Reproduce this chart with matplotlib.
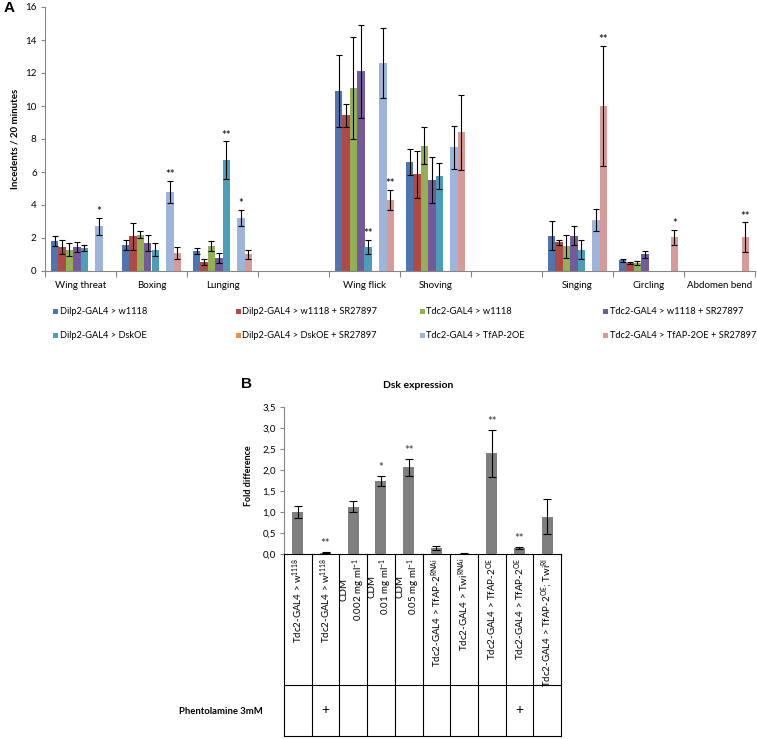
import numpy as np
import matplotlib
matplotlib.use("Agg")
import matplotlib.pyplot as plt
from matplotlib.patches import Rectangle

plt.rcParams['font.family'] = ['Lato', 'DejaVu Sans']
plt.rcParams['mathtext.fontset'] = 'custom'
plt.rcParams['mathtext.rm'] = 'Lato'
plt.rcParams['mathtext.it'] = 'Lato:italic'
plt.rcParams['mathtext.bf'] = 'Lato:bold'

nan = np.nan
# ---------------- Panel A data ----------------
categories_A = ["Wing threat", "Boxing", "Lunging", "", "Wing flick", "Shoving", "",
                "Singing", "Circling", "Abdomen bend"]
series_A = ["Dilp2-GAL4 > w1118", "Dilp2-GAL4 > w1118 + SR27897", "Tdc2-GAL4 > w1118",
            "Tdc2-GAL4 > w1118 + SR27897", "Dilp2-GAL4 > DskOE", "Dilp2-GAL4 > DskOE + SR27897",
            "Tdc2-GAL4 > TfAP-2OE", "Tdc2-GAL4 > TfAP-2OE + SR27897"]
colors_A = ['#4F75B0', '#B04A47', '#94B055', '#735A9A', '#4B9EBA', '#E8924A', '#9DB4DB', '#D69A98']

dilp_w = [1.8, 1.6, 1.2, nan, 10.9, 6.6, nan, 2.15, 0.65, nan]
dilp_w_err = [0.3, 0.3, 0.2, nan, 2.2, 0.8, nan, 0.85, 0.1, nan]
dilp_w_sr = [1.45, 2.1, 0.55, nan, 9.45, 5.85, nan, 1.75, 0.5, nan]
dilp_w_sr_err = [0.45, 0.8, 0.2, nan, 0.7, 1.45, nan, 0.15, 0.05, nan]
tdc_w = [1.3, 2.2, 1.5, nan, 11.1, 7.6, nan, 1.5, 0.5, nan]
tdc_w_err = [0.4, 0.2, 0.3, nan, 3.1, 1.1, nan, 0.7, 0.12, nan]
tdc_w_sr = [1.45, 1.7, 0.8, nan, 12.1, 5.5, nan, 2.15, 1.0, nan]
tdc_w_sr_err = [0.3, 0.5, 0.3, nan, 2.8, 1.4, nan, 0.6, 0.2, nan]
dilp_dsk = [1.4, 1.3, 6.7, nan, 1.45, 5.75, nan, 1.3, nan, nan]
dilp_dsk_err = [0.2, 0.4, 1.15, nan, 0.45, 0.8, nan, 0.6, nan, nan]
dilp_dsk_sr = [nan] * 10
dilp_dsk_sr_err = [nan] * 10
tdc_tfap = [2.7, 4.8, 3.2, nan, 12.6, 7.5, nan, 3.1, nan, nan]
tdc_tfap_err = [0.5, 0.65, 0.5, nan, 2.1, 1.3, nan, 0.68, nan, nan]
tdc_tfap_sr = [nan, 1.1, 1.0, nan, 4.3, 8.4, nan, 10.0, 2.05, 2.05]
tdc_tfap_sr_err = [nan, 0.35, 0.25, nan, 0.6, 2.25, nan, 3.65, 0.45, 0.9]

values_A = [dilp_w, dilp_w_sr, tdc_w, tdc_w_sr, dilp_dsk, dilp_dsk_sr, tdc_tfap, tdc_tfap_sr]
errors_A = [dilp_w_err, dilp_w_sr_err, tdc_w_err, tdc_w_sr_err, dilp_dsk_err, dilp_dsk_sr_err,
            tdc_tfap_err, tdc_tfap_sr_err]
# (category index, series index, marker)
signif_A = [(0, 6, '*'), (1, 6, '**'), (2, 4, '**'), (2, 6, '*'), (4, 4, '**'), (4, 7, '**'),
            (7, 7, '**'), (8, 7, '*'), (9, 7, '**')]

# ---------------- Panel B data ----------------
labels_B = ["Tdc2-GAL4 > w$^{1118}$", "Tdc2-GAL4 > w$^{1118}$",
            "CDM\n0.002 mg ml$^{-1}$", "CDM\n0.01 mg ml$^{-1}$", "CDM\n0.05 mg ml$^{-1}$",
            "Tdc2-GAL4 > TfAP-2$^{\\mathrm{RNAi}}$", "Tdc2-GAL4 > Twi$^{\\mathrm{RNAi}}$",
            "Tdc2-GAL4 > TfAP-2$^{\\mathrm{OE}}$", "Tdc2-GAL4 > TfAP-2$^{\\mathrm{OE}}$",
            "Tdc2-GAL4 > TfAP-2$^{\\mathrm{OE}}$; Twi$^{\\mathrm{RI}}$"]
values_B = [1.0, 0.03, 1.13, 1.74, 2.06, 0.14, 0.01, 2.4, 0.14, 0.89]
errors_B = [0.15, 0.01, 0.13, 0.12, 0.21, 0.04, 0.005, 0.56, 0.02, 0.41]
signif_B = ['', '**', '', '*', '**', '', '', '**', '**', '']
phentolamine = ['', '+', '', '', '', '', '', '', '+', '']
yticks_B = [0.0, 0.5, 1.0, 1.5, 2.0, 2.5, 3.0, 3.5]

W, H = 757, 739
fig = plt.figure(figsize=(W / 100, H / 100), dpi=100)

def fx(px):
    return px / W

def fy(py):
    return 1 - py / H

GRAY = '#868686'
FS = 7

# ---------------- Panel A ----------------
axA = fig.add_axes([fx(45), fy(271), fx(710), 264 / H])
ncat = len(categories_A)
x = np.arange(ncat)
bw = 0.104
for j, (vals, errs, col) in enumerate(zip(values_A, errors_A, colors_A)):
    xs = x + (j - 3.5) * bw
    axA.bar(xs, vals, width=bw, color=col, edgecolor='none')
    axA.errorbar(xs, vals, yerr=errs, fmt='none', ecolor='black', elinewidth=0.8,
                 capsize=2.3, capthick=0.8)
for ci, si, mark in signif_A:
    xs = ci + (si - 3.5) * bw
    top = values_A[si][ci] + errors_A[si][ci]
    axA.annotate(mark, xy=(xs, top), xytext=(0, 2), textcoords='offset points',
                 ha='center', va='baseline', fontsize=8, color='black')
axA.set_xlim(-0.5, ncat - 0.5)
axA.set_ylim(0, 16)
axA.set_yticks(range(0, 17, 2))
axA.set_xticks(x)
axA.set_xticklabels(categories_A, fontsize=FS)
axA.set_xticks(np.arange(-0.5, ncat, 1.0), minor=True)
axA.tick_params(axis='x', which='major', length=0, pad=7)
axA.tick_params(axis='x', which='minor', length=4, color=GRAY, width=0.8)
axA.tick_params(axis='y', length=3, color=GRAY, width=0.8, labelsize=FS, pad=3)
for s in ['top', 'right']:
    axA.spines[s].set_visible(False)
for s in ['left', 'bottom']:
    axA.spines[s].set_color(GRAY)
    axA.spines[s].set_linewidth(0.8)
fig.text(fx(15), fy(139), "Incedents / 20 minutes", rotation=90, ha='center', va='center',
         fontsize=FS, fontweight='bold')
fig.text(fx(4), fy(8), "A", fontsize=11, fontweight='bold', family='Liberation Sans',
         ha='left', va='center')

# Legend
leg_x = [53, 236, 420, 603]
leg_y = [311, 335]
for k, (name, col) in enumerate(zip(series_A, colors_A)):
    r, c = divmod(k, 4)
    px, py = leg_x[c], leg_y[r]
    fig.patches.append(Rectangle((fx(px), fy(py + 2.5)), 5 / W, 5 / H, transform=fig.transFigure,
                                 facecolor=col, edgecolor='none'))
    fig.text(fx(px + 6.5), fy(py), name, fontsize=6.7, ha='left', va='center')

# ---------------- Panel B ----------------
axB = fig.add_axes([fx(284), fy(554), fx(277), 147 / H])
nb = len(values_B)
xb = np.arange(nb)
axB.bar(xb, values_B, width=0.4, color='#7F7F7F', edgecolor='none')
axB.errorbar(xb, values_B, yerr=errors_B, fmt='none', ecolor='black', elinewidth=0.8,
             capsize=2.8, capthick=0.8)
for i, mark in enumerate(signif_B):
    if mark:
        axB.annotate(mark, xy=(i, values_B[i] + errors_B[i]), xytext=(0, 3.5),
                     textcoords='offset points', ha='center', va='baseline',
                     fontsize=8, color='#333333')
axB.set_xlim(-0.5, nb - 0.5)
axB.set_ylim(0, 3.5)
axB.set_yticks(yticks_B)
axB.set_yticklabels([f"{v:.1f}".replace('.', ',') for v in yticks_B])
axB.set_xticks([])
axB.tick_params(axis='y', length=3, color=GRAY, width=0.8, labelsize=FS, pad=3)
for s in ['top', 'right']:
    axB.spines[s].set_visible(False)
axB.spines['left'].set_color(GRAY)
axB.spines['left'].set_linewidth(0.8)
axB.spines['bottom'].set_color('black')
axB.spines['bottom'].set_linewidth(0.8)
fig.text(fx(418), fy(385), "Dsk expression", fontsize=7.5, fontweight='bold', ha='center', va='center')
fig.text(fx(248), fy(476), "Fold difference", rotation=90, fontsize=6.5, fontweight='bold',
         ha='center', va='center')
fig.text(fx(247), fy(384), "B", fontsize=11, fontweight='bold', family='Liberation Sans',
         ha='center', va='center')

# Table under panel B
axT = fig.add_axes([fx(284), fy(737), fx(277), 183 / H])
axT.set_xlim(-0.5, nb - 0.5)
axT.set_ylim(737, 554)
axT.axis('off')
for b in np.arange(-0.5, nb, 1.0):
    axT.plot([b, b], [554, 736], color='black', lw=0.8, clip_on=False)
for yy in [685, 736]:
    axT.plot([-0.5, nb - 0.5], [yy, yy], color='black', lw=0.8, clip_on=False)
for i, lab in enumerate(labels_B):
    axT.text(i, 558, lab, rotation=90, ha='center', va='top', fontsize=7,
             multialignment='center', linespacing=1.1)
    if phentolamine[i]:
        axT.text(i, 710, phentolamine[i], ha='center', va='center', fontsize=10)
fig.text(fx(179), fy(712), "Phentolamine 3mM", fontsize=6.8, fontweight='bold', ha='left', va='center')

fig.savefig("out.png", dpi=100)
